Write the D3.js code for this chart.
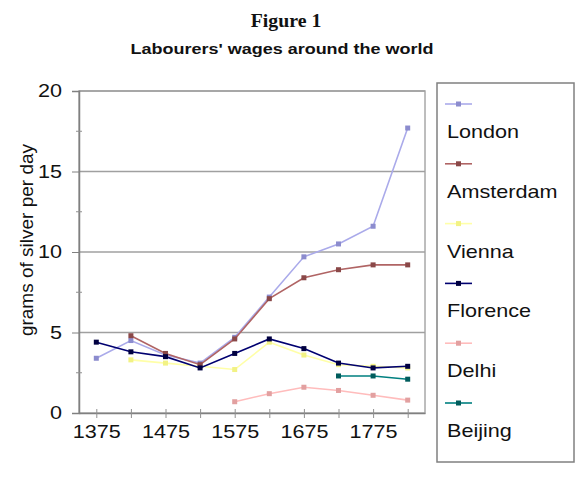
<!DOCTYPE html>
<html>
<head>
<meta charset="utf-8">
<script src="https://cdn.jsdelivr.net/npm/d3@7"></script>
<style>
  body { margin: 0; background: #fff; }
  svg { display: block; }
  text { font-family: "Liberation Sans", Arial, sans-serif; fill: #111; }
</style>
</head>
<body>
<svg width="586" height="480"></svg>
<script>
// **** Data ****
var years = [1375, 1425, 1475, 1525, 1575, 1625, 1675, 1725, 1775, 1825];
var cities = ['London', 'Amsterdam', 'Vienna', 'Florence', 'Delhi', 'Beijing'];

var london    = [3.4, 4.5, 3.6, 3.1, 4.7, 7.2, 9.7, 10.5, 11.6, 17.7];
var amsterdam = [null, 4.8, 3.7, 3.0, 4.6, 7.1, 8.4, 8.9, 9.2, 9.2];
var vienna    = [null, 3.3, 3.1, 2.9, 2.7, 4.4, 3.6, 3.0, 2.9, 2.8];
var florence  = [4.4, 3.8, 3.5, 2.8, 3.7, 4.6, 4.0, 3.1, 2.8, 2.9];
var delhi     = [null, null, null, null, 0.7, 1.2, 1.6, 1.4, 1.1, 0.8];
var beijing   = [null, null, null, null, null, null, null, 2.3, 2.3, 2.1];

var yTicks = [0, 5, 10, 15, 20];
var xLabels = [1375, 1475, 1575, 1675, 1775];

var lineColors   = ['#aaaaea', '#b06464', '#ffffa8', '#000070', '#ffbcbc', '#008080'];
var markerColors = ['#8c8cce', '#8a4848', '#f2f284', '#000040', '#e2a0a0', '#005c5c'];

var series = [london, amsterdam, vienna, florence, delhi, beijing];

// **** Scales and axes ****
var svg = d3.select('svg');
var sx = 1.2; // horizontal stretch of the lettering in the picture

var xScale = d3.scalePoint().domain(years).range([79, 425]).padding(0.5);
var yScale = d3.scaleLinear().domain([0, 20]).range([413, 91]);

// plot frame
svg.append('rect')
    .attr('x', 79).attr('y', 91).attr('width', 346).attr('height', 322)
    .attr('fill', 'none').attr('stroke', '#a8a8a8').attr('stroke-width', 1.5);

// gridlines
svg.append('g').selectAll('line')
    .data(yTicks.slice(1))
    .enter().append('line')
    .attr('x1', 79).attr('x2', 425)
    .attr('y1', d => yScale(d)).attr('y2', d => yScale(d))
    .attr('stroke', '#a0a0a0').attr('stroke-width', 1.5);

// y axis
var yAxis = svg.append('g')
    .attr('transform', 'translate(79,0)')
    .call(d3.axisLeft(yScale).tickValues(yTicks).tickSize(7).tickPadding(9));
yAxis.select('.domain').attr('stroke', '#808080').attr('stroke-width', 1.5);
yAxis.selectAll('.tick line').attr('stroke', '#808080');
yAxis.selectAll('text')
    .style('font-size', '18px')
    .attr('fill', '#222')
    .attr('transform', 'scale(' + sx + ',1)')
    .attr('x', -17 / sx);

// minor y ticks
svg.append('g').selectAll('line')
    .data([2.5, 7.5, 12.5, 17.5])
    .enter().append('line')
    .attr('x1', 76).attr('x2', 82)
    .attr('y1', d => yScale(d)).attr('y2', d => yScale(d))
    .attr('stroke', '#909090');

// x axis
var xAxis = svg.append('g')
    .attr('transform', 'translate(0,413)')
    .call(d3.axisBottom(xScale).tickSize(0).tickPadding(12)
        .tickFormat(d => xLabels.indexOf(d) >= 0 ? d : ''));
xAxis.select('.domain').attr('stroke', '#808080').attr('stroke-width', 1.5);
xAxis.selectAll('.tick').append('line')
    .attr('y1', -4).attr('y2', 5)
    .attr('stroke', '#909090');
xAxis.selectAll('text')
    .style('font-size', '18px')
    .attr('fill', '#222')
    .attr('transform', 'scale(' + sx + ',1)');

// y axis title
svg.append('text')
    .attr('transform', 'translate(33,240) rotate(-90)')
    .attr('text-anchor', 'middle')
    .style('font-size', '19px')
    .attr('fill', '#222')
    .text('grams of silver per day');

// titles
svg.append('text')
    .attr('transform', 'translate(286,27) scale(1.1,1)')
    .attr('text-anchor', 'middle')
    .style('font-family', '"Liberation Serif", "Times New Roman", serif')
    .style('font-weight', 'bold')
    .style('font-size', '18px')
    .text('Figure 1');

svg.append('text')
    .attr('transform', 'translate(282,54) scale(' + sx + ',1)')
    .attr('text-anchor', 'middle')
    .style('font-weight', 'bold')
    .style('font-size', '15px')
    .text("Labourers' wages around the world");

// **** Lines and markers ****
var line = d3.line()
    .defined(d => d.v !== null)
    .x(d => xScale(d.year))
    .y(d => yScale(d.v));

var order = [2, 4, 5, 0, 1, 3]; // draw faint series first
order.forEach(function(i) {
    var pts = years.map((y, j) => ({year: y, v: series[i][j]}));
    svg.append('path')
        .datum(pts)
        .attr('fill', 'none')
        .attr('stroke', lineColors[i])
        .attr('stroke-width', 1.6)
        .attr('d', line);
    svg.append('g').selectAll('rect')
        .data(pts.filter(d => d.v !== null))
        .enter().append('rect')
        .attr('x', d => xScale(d.year) - 2.5)
        .attr('y', d => yScale(d.v) - 2.5)
        .attr('width', 5).attr('height', 5)
        .attr('fill', markerColors[i]);
});

// **** Legend ****
svg.append('rect')
    .attr('x', 437).attr('y', 83).attr('width', 137).attr('height', 379)
    .attr('fill', 'none').attr('stroke', '#808080').attr('stroke-width', 1.5);

var legend = svg.append('g').selectAll('g')
    .data(cities)
    .enter().append('g')
    .attr('transform', (d, i) => 'translate(0,' + (104 + i * 59.8) + ')');

legend.append('line')
    .attr('x1', 445).attr('x2', 472)
    .attr('stroke', (d, i) => lineColors[i])
    .attr('stroke-width', 1.6);
legend.append('rect')
    .attr('x', 456).attr('y', -2.5).attr('width', 5).attr('height', 5)
    .attr('fill', (d, i) => markerColors[i]);
legend.append('text')
    .attr('transform', 'translate(447,34) scale(' + sx + ',1)')
    .style('font-size', '18px')
    .attr('fill', '#222')
    .text(d => d);
</script>
</body>
</html>
